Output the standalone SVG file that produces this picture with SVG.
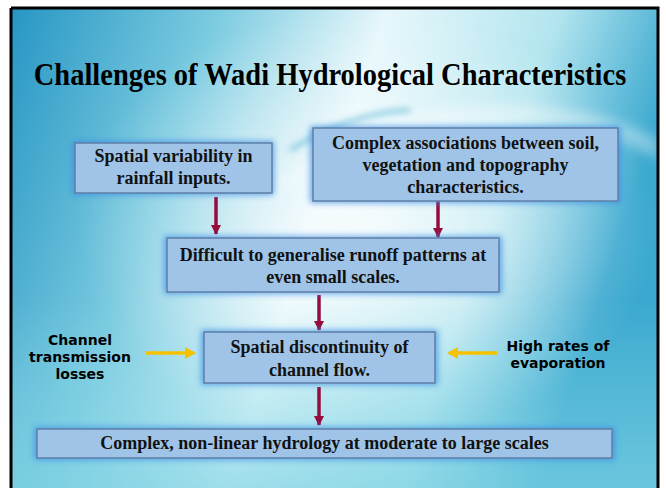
<svg xmlns="http://www.w3.org/2000/svg" width="666" height="488" viewBox="0 0 666 488">
  <defs>
    <linearGradient id="bg" x1="0" y1="0" x2="1" y2="0.25">
      <stop offset="0" stop-color="#2796c4"/>
      <stop offset="0.3" stop-color="#7bcbe0"/>
      <stop offset="0.55" stop-color="#e6f7fb"/>
      <stop offset="0.8" stop-color="#b3e5ef"/>
      <stop offset="1" stop-color="#3aa8cf"/>
    </linearGradient>
    <radialGradient id="hl" cx="0.55" cy="0.45" r="0.45">
      <stop offset="0" stop-color="#ffffff" stop-opacity="0.75"/>
      <stop offset="1" stop-color="#ffffff" stop-opacity="0"/>
    </radialGradient>
    <linearGradient id="bottom" x1="0" y1="0" x2="0" y2="1">
      <stop offset="0" stop-color="#8fdbe8" stop-opacity="0"/>
      <stop offset="1" stop-color="#7fd3e3" stop-opacity="0.7"/>
    </linearGradient>
    <filter id="glow" x="-20%" y="-40%" width="140%" height="180%">
      <feGaussianBlur stdDeviation="3"/>
    </filter>
    <filter id="soft" x="-20%" y="-50%" width="140%" height="200%">
      <feGaussianBlur stdDeviation="6"/>
    </filter>
    <marker id="red" markerWidth="12" markerHeight="10" refX="9" refY="5" orient="auto" markerUnits="userSpaceOnUse">
      <path d="M0,0 L10,5 L0,10 Z" fill="#960c3c"/>
    </marker>
    <marker id="yel" markerWidth="12" markerHeight="12" refX="9" refY="6" orient="auto" markerUnits="userSpaceOnUse">
      <path d="M0,0 L11,6 L0,12 Z" fill="#f6c200"/>
    </marker>
    <style>
      .box { fill: #9fc4e7; stroke: #5f7fa6; stroke-width: 1.5; }
      .glow { fill: #3d8fe6; opacity: 0.75; filter: url(#glow); }
      .bt { font-family: "Liberation Serif", "Times New Roman", serif; font-weight: bold; font-size: 18px; fill: #111; text-anchor: middle; }
      .title { font-family: "Liberation Serif", "Times New Roman", serif; font-weight: bold; font-size: 28.5px; fill: #000; text-anchor: middle; }
      .side { font-family: "DejaVu Sans", Verdana, sans-serif; font-weight: bold; font-size: 14px; fill: #000; text-anchor: middle; }
      .redc { stroke: #960c3c; stroke-width: 3.5; fill: none; }
      .yelc { stroke: #f6c200; stroke-width: 3.5; fill: none; }
    </style>
  </defs>

  <rect width="666" height="488" fill="#ffffff"/>
  <rect x="11" y="8" width="647" height="482" fill="url(#bg)"/>
  <rect x="11" y="8" width="647" height="482" fill="url(#hl)"/>
  <rect x="11" y="300" width="647" height="190" fill="url(#bottom)"/>
  <path d="M260,200 C330,130 430,100 520,105 C580,108 630,120 658,140 L658,160 C610,130 540,120 470,130 C390,140 320,170 260,200 Z" fill="#ffffff" opacity="0.35" filter="url(#soft)"/>
  <path d="M290,150 C330,125 370,112 410,110" stroke="#2fa0c8" stroke-width="4" fill="none" opacity="0.55" filter="url(#glow)"/>
  <path d="M11,8 H658 V490 M11,8 V490" fill="none" stroke="#000" stroke-width="3"/>

  <text class="title" transform="translate(330,85) scale(1,1.12)" x="0" y="0">Challenges of Wadi Hydrological Characteristics</text>

  <g id="connectors">
    <line class="redc" x1="216" y1="197" x2="216" y2="234" marker-end="url(#red)"/>
    <line class="redc" x1="438" y1="201" x2="438" y2="237" marker-end="url(#red)"/>
    <line class="redc" x1="319" y1="295" x2="319" y2="330" marker-end="url(#red)"/>
    <line class="redc" x1="319" y1="387" x2="319" y2="425" marker-end="url(#red)"/>
    <line class="yelc" x1="146" y1="353" x2="194" y2="353" marker-end="url(#yel)"/>
    <line class="yelc" x1="497" y1="353" x2="449" y2="353" marker-end="url(#yel)"/>
  </g>

  <g id="n1">
    <rect class="glow" x="72" y="141" width="202" height="54"/>
    <rect class="box" x="75" y="143" width="197" height="50"/>
    <text class="bt" x="173.5" y="162">Spatial variability in</text>
    <text class="bt" x="173.5" y="184">rainfall inputs.</text>
  </g>
  <g id="n2">
    <rect class="glow" x="310" y="126" width="311" height="77"/>
    <rect class="box" x="313" y="128" width="305" height="73"/>
    <text class="bt" x="465.5" y="149">Complex associations between soil,</text>
    <text class="bt" x="465.5" y="171">vegetation and topography</text>
    <text class="bt" x="465.5" y="193">characteristics.</text>
  </g>
  <g id="n3">
    <rect class="glow" x="164" y="236" width="338" height="58"/>
    <rect class="box" x="167" y="238" width="332" height="54"/>
    <text class="bt" x="333" y="261">Difficult to generalise runoff patterns at</text>
    <text class="bt" x="333" y="283">even small scales.</text>
  </g>
  <g id="n4">
    <rect class="glow" x="201" y="330" width="237" height="55"/>
    <rect class="box" x="204" y="332" width="231" height="51"/>
    <text class="bt" x="319.5" y="353">Spatial discontinuity of</text>
    <text class="bt" x="319.5" y="376">channel flow.</text>
  </g>
  <g id="n5">
    <rect class="glow" x="34" y="427" width="581" height="33"/>
    <rect class="box" x="37" y="429" width="575" height="29"/>
    <text class="bt" x="324.5" y="449">Complex, non-linear hydrology at moderate to large scales</text>
  </g>
  <g id="l1">
    <text class="side" x="80" y="345">Channel</text>
    <text class="side" x="80" y="362">transmission</text>
    <text class="side" x="80" y="379">losses</text>
  </g>
  <g id="l2">
    <text class="side" x="558" y="351">High rates of</text>
    <text class="side" x="558" y="368">evaporation</text>
  </g>
</svg>
